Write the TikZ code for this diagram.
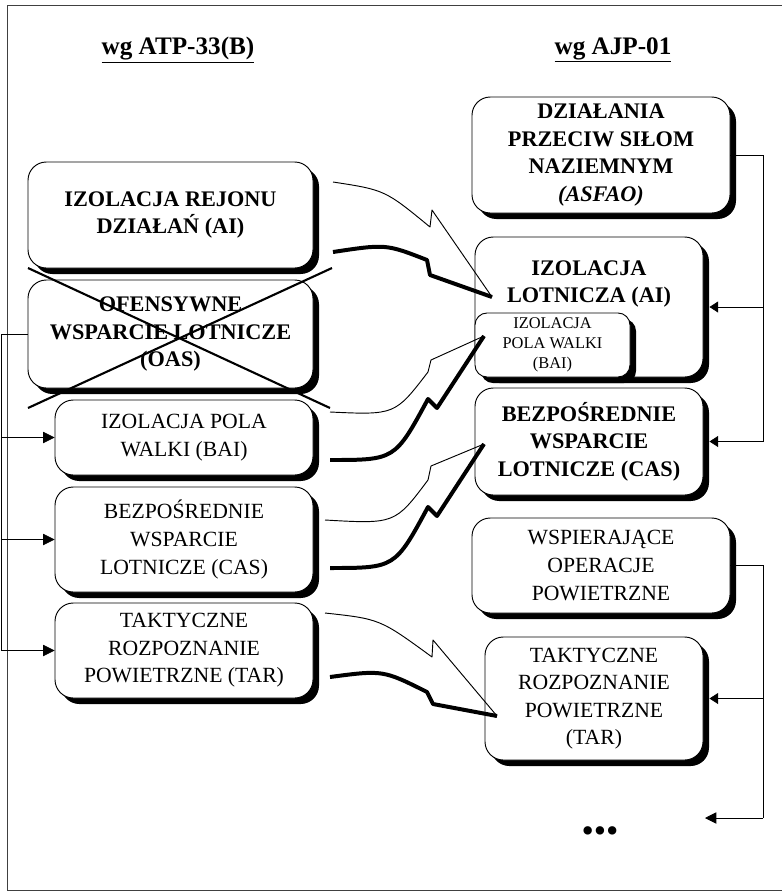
\documentclass[tikz,border=0pt]{standalone}
\usepackage{fontspec}
\setmainfont{Liberation Serif}
\usetikzlibrary{shadows,arrows.meta,calc}

\tikzset{
  panel/.style={draw, line width=0.8pt, rounded corners=5.5mm, fill=white, align=center, inner sep=0pt,
    drop shadow={shadow xshift=1.8mm, shadow yshift=-1.8mm, opacity=1, fill=black}},
  boldpanel/.style={panel, font=\bfseries\fontsize{19}{23.5}\selectfont},
  plainpanel/.style={panel, font=\fontsize{18.5}{23.5}\selectfont},
  heading/.style={font=\bfseries\fontsize{21.5}{25}\selectfont},
  feed/.style={line width=0.6pt, -{Triangle[length=3.4mm,width=3.4mm]}},
  boltedge/.style={line width=0.8pt, line join=round},
  boltshade/.style={line width=3.4pt, line join=round},
  cross/.style={line width=1.8pt},
}

% curved block arrow: upper edge, head, lower (shaded) edge
\newcommand{\zigarrow}[9]{%
  \draw[boltedge] (#1) .. controls (#2) .. (#3) -- (#4) -- (#5);
  \draw[boltshade] (#5) -- (#6) -- (#7) .. controls (#8) .. (#9);}

\begin{document}
\begin{tikzpicture}[x=0.3mm, y=-0.3mm]
    \useasboundingbox (0,0) rectangle (782,893);
    \draw[line width=0.8pt, black!75] (782,5) -- (7,5) -- (7,890) -- (782,890);

    \node[heading] (hatp) at (178,50) {\underline{wg ATP-33(B)}};
    \node[heading] (hajp) at (613,50) {\underline{wg AJP-01}};

    % left column
    \node[boldpanel, minimum width=85.5mm, minimum height=31.8mm] (lai) at (170.5,215) {IZOLACJA REJONU\\DZIAŁAŃ (AI)};
    \node[boldpanel, minimum width=85.5mm, minimum height=32.4mm] (loas) at (170.5,334) {OFENSYWNE\\WSPARCIE LOTNICZE\\(OAS)};
    \node[plainpanel, minimum width=77.4mm, minimum height=22.5mm] (lbai) at (184,437.5) {IZOLACJA POLA\\WALKI (BAI)};
    \node[plainpanel, minimum width=77.4mm, minimum height=31.5mm] (lcas) at (184,539.5) {BEZPOŚREDNIE\\WSPARCIE\\LOTNICZE (CAS)};
    \node[plainpanel, minimum width=77.4mm, minimum height=28.5mm] (ltar) at (184,650.5) {TAKTYCZNE\\ROZPOZNANIE\\POWIETRZNE (TAR)};

    % right column
    \node[boldpanel, minimum width=77.4mm, minimum height=34.8mm] (rasfao) at (601,155) {DZIAŁANIA\\PRZECIW SIŁOM\\NAZIEMNYM\\\textit{(ASFAO)}};
    \node[boldpanel, minimum width=68.4mm, minimum height=42mm] (rai) at (589,307) {};
    \node[font=\bfseries\fontsize{19}{23.5}\selectfont, align=center, inner sep=0pt] (raitext) at (589,284) {IZOLACJA\\LOTNICZA (AI)};
    \node[plainpanel, font=\fontsize{14}{17}\selectfont, rounded corners=3.6mm, minimum width=46.5mm, minimum height=19.2mm] (rbai) at (552.5,345) {IZOLACJA\\POLA WALKI\\(BAI)};
    \node[boldpanel, minimum width=68.4mm, minimum height=32.1mm] (rcas) at (589,441.5) {BEZPOŚREDNIE\\WSPARCIE\\LOTNICZE (CAS)};
    \node[plainpanel, minimum width=77.4mm, minimum height=28.5mm] (rwop) at (601,565.5) {WSPIERAJĄCE\\OPERACJE\\POWIETRZNE};
    \node[plainpanel, minimum width=65.4mm, minimum height=36.9mm] (rtar) at (594,698.5) {TAKTYCZNE\\ROZPOZNANIE\\POWIETRZNE\\(TAR)};
    \node[font=\fontsize{30}{30}\selectfont, inner sep=0pt] (more) at (600,835) {•••};

    % OAS crossed out
    \draw[cross] (28,268) -- (330,408) (332,268) -- (28,408);

    % left bracket
    \coordinate (lbus) at (1,0);
    \draw[line width=0.6pt] (loas.west) -- (loas.west -| lbus) -- (ltar.west -| lbus);
    \foreach \boxname in {lbai,lcas,ltar}
        \draw[feed] (\boxname.west -| lbus) -- (\boxname.west);

    % right brackets
    \coordinate (rbus) at (763,0);
    \coordinate (moreend) at (705,818);
    \draw[line width=0.6pt] (rasfao.east) -- (rasfao.east -| rbus) -- (rcas.east -| rbus);
    \foreach \boxname in {rai,rcas}
        \draw[feed, -{Triangle[length=2.6mm,width=3.3mm]}] (\boxname.east -| rbus) -- ($(\boxname.east)+(6,0)$);
    \draw[line width=0.6pt] (rwop.east) -- (rwop.east -| rbus) -- (moreend -| rbus);
    \draw[feed, -{Triangle[length=2.6mm,width=3.3mm]}] (rtar.east -| rbus) -- ($(rtar.east)+(6,0)$);
    \draw[feed] (moreend -| rbus) -- (moreend);

    % block arrows between the columns
    \zigarrow{333,182}{385,190}{430,227}{432,210}{492,297}{430,275}{427,260}{386,244}{333,252}
    \zigarrow{330,412}{395,415}{428,372}{431,360}{484,336}{437,408}{428,399}{395,460}{330,460}
    \zigarrow{325,520}{395,524}{428,480}{431,466}{484,444}{437,516}{428,507}{395,568}{330,568}
    \zigarrow{325,613}{380,619}{432,657}{433,640}{497,716}{433,704}{427,692}{383,670}{330,677}
\end{tikzpicture}
\end{document}
